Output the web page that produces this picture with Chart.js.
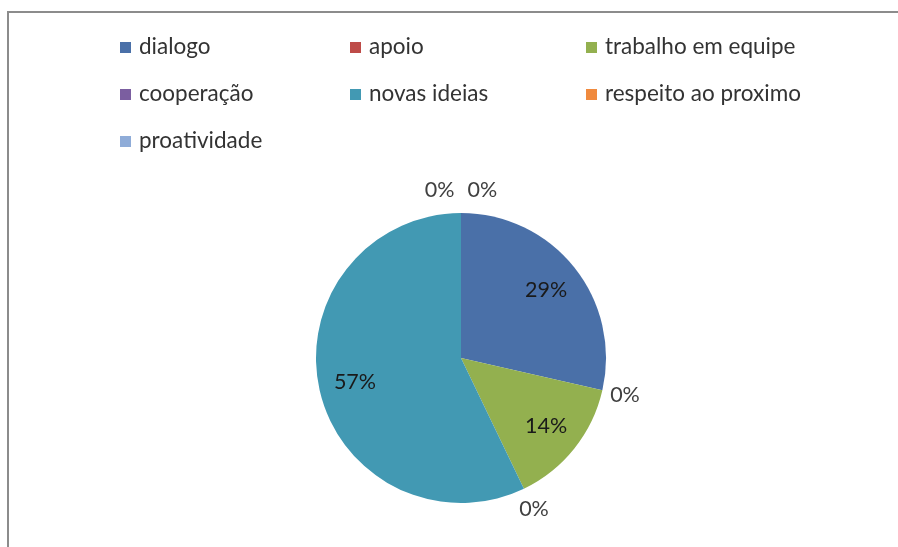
<!DOCTYPE html>
<html>
<head>
<meta charset="utf-8">
<script src="https://cdn.jsdelivr.net/npm/chart.js@4/dist/chart.umd.min.js"></script>
<style>
  html, body { margin: 0; padding: 0; background: #fff; }
  #wrap { position: relative; width: 898px; height: 547px; overflow: hidden; }
  #frame { position: absolute; left: 7px; top: 11px; width: 1000px; height: 1000px;
           border-left: 2px solid #8c8c8c; border-top: 2px solid #8c8c8c; }
  canvas { position: absolute; left: 0; top: 0; }
</style>
</head>
<body>
<div id="wrap">
  <div id="frame"></div>
  <canvas id="chart" width="898" height="547"></canvas>
</div>
<script>
// data
var categories = ["dialogo", "apoio", "trabalho em equipe", "cooperação", "novas ideias", "respeito ao proximo", "proatividade"];
var values = [2, 0, 1, 0, 4, 0, 0];
var sliceColors = ["#4A70A8", "#BE4B48", "#93B04F", "#7B5EA0", "#4299B3", "#F08A3E", "#8FACD8"];

var legendColumns = [120, 350, 586];
var legendRows = [47, 94, 141];

// legend in 3 columns, like Excel
var gridLegend = {
    id: "gridLegend",
    afterDraw: function (chart) {
        var ctx = chart.ctx;
        ctx.save();
        ctx.font = "22.5px Lato";
        ctx.textBaseline = "middle";
        ctx.textAlign = "left";
        categories.forEach(function (name, i) {
            var x = legendColumns[i % 3];
            var y = legendRows[Math.floor(i / 3)];
            ctx.fillStyle = sliceColors[i];
            ctx.fillRect(x, y - 5, 11, 11);
            ctx.fillStyle = "#333333";
            ctx.fillText(name, x + 19, y);
        });
        ctx.restore();
    }
};

// percentage labels; zero slices go outside
var pctLabels = {
    id: "pctLabels",
    afterDatasetsDraw: function (chart) {
        var ctx = chart.ctx;
        var meta = chart.getDatasetMeta(0);
        var total = values.reduce(function (a, b) { return a + b; }, 0);
        ctx.save();
        ctx.font = "21.5px Lato";
        ctx.textAlign = "center";
        ctx.textBaseline = "middle";

        var labels = [];
        meta.data.forEach(function (arc, i) {
            var p = arc.getProps(["x", "y", "startAngle", "endAngle", "outerRadius"], true);
            var mid = (p.startAngle + p.endAngle) / 2;
            var inside = values[i] > 0;
            var r = inside ? p.outerRadius * 0.75 : p.outerRadius * 1.16;
            var text = Math.round(values[i] / total * 100) + "%";
            labels.push({
                text: text,
                x: p.x + Math.cos(mid) * r,
                y: p.y + Math.sin(mid) * r,
                w: ctx.measureText(text).width,
                color: inside ? "#1a1a1a" : "#404040"
            });
        });

        // spread labels that land on the same spot
        var done = [];
        labels.forEach(function (lb) {
            if (done.indexOf(lb) !== -1) return;
            var group = labels.filter(function (o) {
                return Math.abs(o.x - lb.x) < 2 && Math.abs(o.y - lb.y) < 2;
            });
            var step = lb.w + 13;
            group.forEach(function (o, k) {
                o.x = o.x + (k - (group.length - 1) / 2) * step;
                done.push(o);
            });
        });

        labels.forEach(function (lb) {
            ctx.fillStyle = lb.color;
            ctx.fillText(lb.text, lb.x, lb.y);
        });
        ctx.restore();
    }
};

var ctx = document.getElementById("chart").getContext("2d");
new Chart(ctx, {
    type: "pie",
    data: {
        labels: categories,
        datasets: [{
            data: values,
            backgroundColor: sliceColors,
            borderWidth: 0
        }]
    },
    options: {
        responsive: false,
        animation: false,
        layout: { padding: { top: 213, bottom: 44, left: 24, right: 0 } },
        plugins: {
            legend: { display: false },
            tooltip: { enabled: false }
        }
    },
    plugins: [gridLegend, pctLabels]
});
</script>
</body>
</html>
